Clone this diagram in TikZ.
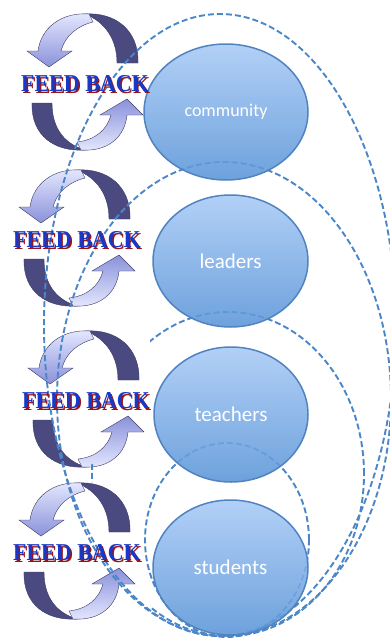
\documentclass[tikz,border=0pt]{standalone}
\usepackage{fontspec}
\usepackage{graphicx}
\usetikzlibrary{shapes.geometric}
\newfontfamily\fbfont{Liberation Serif}
\newfontfamily\cfont{Carlito}
\definecolor{fbnavy}{HTML}{4B4A80}
\definecolor{fbedge}{HTML}{3A3A66}
\definecolor{fblight1}{HTML}{E6E9FF}
\definecolor{fblight2}{HTML}{8A92DA}
\definecolor{dashblue}{HTML}{4A86C8}
\definecolor{ctop}{HTML}{A8CAF6}
\definecolor{cbot}{HTML}{5A95D8}
\definecolor{cedge}{HTML}{5083BF}
\definecolor{fbblue}{HTML}{1838C8}
\definecolor{fbred}{HTML}{9A1414}
\tikzset{
  fbdark/.style={fill=fbnavy, draw=fbedge, line width=0.4pt},
  fblightT/.style={top color=fblight1, bottom color=fblight2, draw=fbedge, line width=0.4pt},
  fblightB/.style={top color=fblight2, bottom color=fblight1, draw=fbedge, line width=0.4pt},
  pics/fbarrows/.style={code={
    \path[fbdark] (53,-21) .. controls (54,-54) and (30,-72) .. (0,-70)
        .. controls (20,-62) and (32,-45) .. (32,-21) -- cycle;
    \path[fblightT] (4,-70) .. controls (-24,-72) and (-44,-56) .. (-47,-33)
        -- (-58,-33) -- (-36,-17) -- (-13,-33) -- (-24,-33)
        .. controls (-20,-48) and (-8,-58) .. (8,-62) -- cycle;
    \path[fbdark] (-53,19) .. controls (-54,52) and (-30,68) .. (0,66)
        .. controls (-20,60) and (-33,45) .. (-33,19) -- cycle;
    \path[fblightB] (-4,66) .. controls (24,68) and (40,52) .. (42,31)
        -- (58,31) -- (42,15) -- (15,31) -- (26,31)
        .. controls (22,46) and (10,56) .. (-8,58) -- cycle;
  }},
  dellipse/.style={ellipse, draw=dashblue, dash pattern=on 6pt off 3pt, line width=1.9pt, inner sep=0pt},
  circ/.style={ellipse, inner sep=0pt, draw=cedge, line width=1.5pt, top color=ctop, bottom color=cbot,
     fill opacity=0.88, text opacity=1, text=white, font=\cfont},
  fbtext/.style={inner sep=0pt, text=fbblue, font=\fbfont\bfseries\fontsize{22}{22}\selectfont},
  fbshadow/.style={inner sep=0pt, text=fbred, font=\fbfont\bfseries\fontsize{22}{22}\selectfont}
}
\begin{document}
\begin{tikzpicture}[x=1pt,y=-1pt]
\useasboundingbox (0,0) rectangle (390,640);
\fill[white] (0,0) rectangle (390,640);
% feedback arrows
\pic (fa1) at (85,84) {fbarrows};
\pic (fa2) at (77,240) {fbarrows};
\pic (fa3) at (86,401) {fbarrows};
\pic (fa4) at (77,553) {fbarrows};
% dashed groupings
\node[dellipse, minimum width=352pt, minimum height=622pt] (eA) at (220,325) {};
\node[dellipse, minimum width=334pt, minimum height=474pt] (eB) at (224,399) {};
\begin{scope}
  \clip (150,0) rectangle (390,640) (80,462) rectangle (150,482);
  \node[dellipse, minimum width=272pt, minimum height=324pt] (eC) at (228,474) {};
\end{scope}
\node[dellipse, minimum width=164pt, minimum height=194pt] (eD) at (227,540) {};
% circles
\node[circ, minimum width=164pt, minimum height=136pt] (c1) at (226,112) {\fontsize{18}{18}\selectfont community};
\node[circ, minimum width=155pt, minimum height=132pt] (c2) at (230.5,261) {\fontsize{21}{21}\selectfont leaders};
\node[circ, minimum width=154pt, minimum height=135pt] (c3) at (231,414.5) {\fontsize{21}{21}\selectfont teachers};
\node[circ, minimum width=155pt, minimum height=135pt] (c4) at (230.5,567.5) {\fontsize{21}{21}\selectfont students};
% feedback texts
\foreach \i/\x/\y in {1/85/84, 2/77/240, 3/86/401, 4/77/553}{
  \node[fbshadow] (fs\i) at (\x+1.4,\y+1.4) {\scalebox{1}[1.1]{FEED BACK}};
  \node[fbtext] (ft\i) at (\x,\y) {\scalebox{1}[1.1]{FEED BACK}};
}
\end{tikzpicture}
\end{document}
